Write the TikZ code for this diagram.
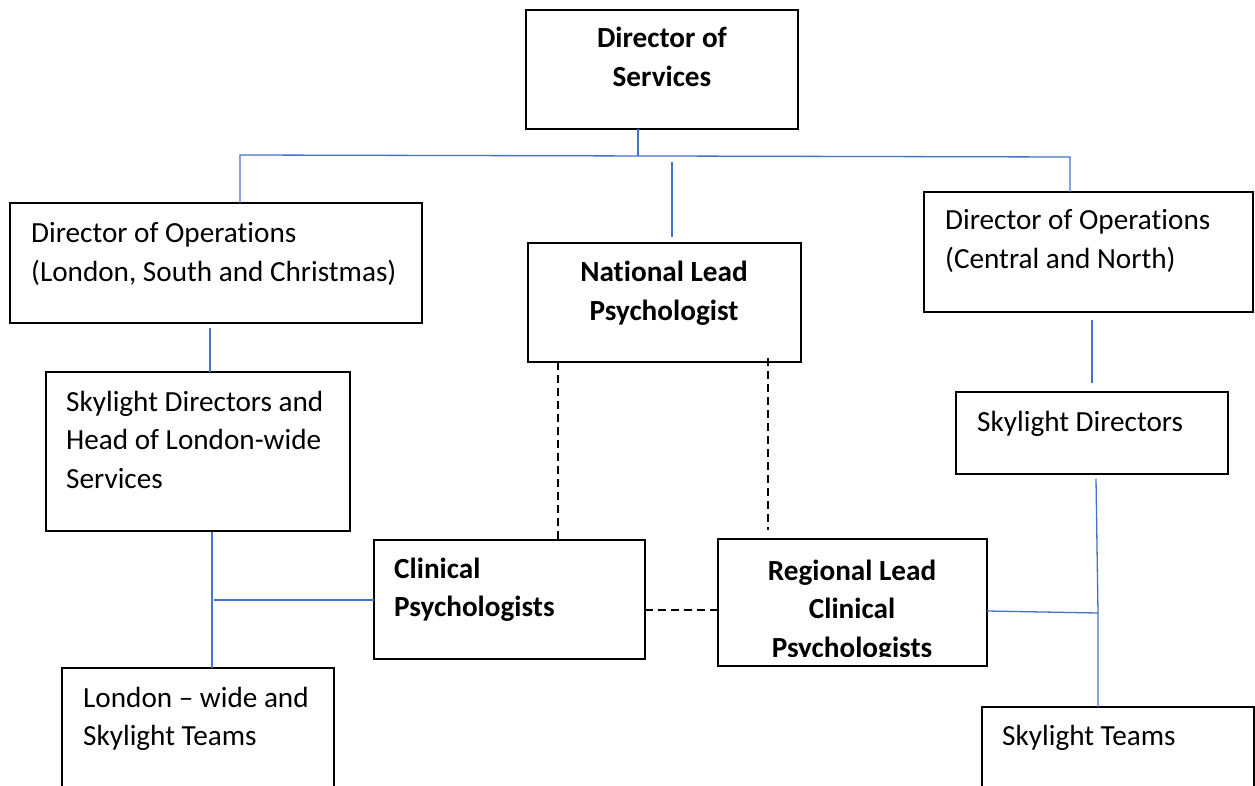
\documentclass[tikz,border=0pt]{standalone}
\usepackage{fontspec}
\setmainfont{Carlito}[RawFeature={-liga;-clig;-calt;-dlig}]
\definecolor{linkblue}{HTML}{4472C4}
\newcommand{\boxlines}[2][l]{\begin{tabular}[t]{@{}#1@{}}#2\end{tabular}}
\begin{document}
\begin{tikzpicture}[x=1pt,y=-1pt,
  orgbox/.style={draw=black, line width=2.2pt, rectangle, inner sep=0pt, outer sep=0pt, anchor=north west},
  txt/.style={anchor=base west, inner sep=0pt, font=\fontsize{29.2}{38.5}\selectfont},
  ctxt/.style={anchor=base, inner sep=0pt, font=\fontsize{29.2}{38.5}\selectfont\bfseries},
  btxt/.style={anchor=base west, inner sep=0pt, font=\fontsize{29.2}{38.5}\selectfont\bfseries},
  link/.style={draw=linkblue, line width=1.3pt},
  dashlink/.style={draw=black, line width=1.8pt, dash pattern=on 8pt off 5pt}]
\useasboundingbox (0,0) rectangle (1255,786);
\fill[white] (0,0) rectangle (1255,786);

% boxes
\node[orgbox, minimum width=272pt, minimum height=119pt] (dos) at (526,10) {};
\node[orgbox, minimum width=412pt, minimum height=120pt] (dol) at (10,203) {};
\node[orgbox, minimum width=273pt, minimum height=119pt] (nlp) at (528,243) {};
\node[orgbox, minimum width=329pt, minimum height=120pt] (doc) at (924,192) {};
\node[orgbox, minimum width=304pt, minimum height=159pt] (sdl) at (46,372) {};
\node[orgbox, minimum width=271pt, minimum height=119pt] (cp) at (374,540) {};
\node[orgbox, minimum width=272pt, minimum height=140pt] (lw) at (62,668) {};
\node[orgbox, minimum width=269pt, minimum height=127pt] (rl) at (718,539) {};
\node[orgbox, minimum width=272pt, minimum height=82pt] (sd) at (956,392) {};
\node[orgbox, minimum width=272pt, minimum height=100pt] (st) at (982,707) {};

% texts
\node[ctxt] (tdos) at (662,48) {\boxlines[c]{Director of\\Services}};
\node[txt] (tdol) at (31,243) {\boxlines{Director of Operat\kern0pt ions\\(London, South and Christmas)}};
\node[ctxt] (tnlp) at (664,282) {\boxlines[c]{National Lead\\Psychologist}};
\node[txt] (tdoc) at (945,230) {\boxlines{Director of Operat\kern0pt ions\\(Central and North)}};
\node[txt] (tsdl) at (66,411) {\boxlines{Skylight Directors and\\Head of London-wide\\Services}};
\node[btxt] (tcp) at (394,578) {\boxlines{Clinical\\Psychologists}};
\node[txt] (tlw) at (83,707) {\boxlines{London -- wide and\\Skylight Teams}};
\begin{scope}
  \clip (718,539) rectangle (987,656);
  \node[ctxt] (trl) at (852,580) {\boxlines[c]{Regional Lead\\Clinical\\Psychologists}};
\end{scope}
\node[txt] (tsd) at (977,431) {Skylight Directors};
\node[txt] (tst) at (1002,745) {Skylight Teams};

% blue connectors
\coordinate (hubL) at (240,155);
\coordinate (hubC) at (638,156);
\coordinate (hubR) at (1070,157);
\draw[link] (hubC |- dos.south) -- (hubC);
\draw[link] (dol.north -| hubL) -- (hubL) -- (hubR) -- (hubR |- doc.north);
\coordinate (nt) at (672,162);
\coordinate (nb) at (672,237);
\draw[link] (nt) -- (nb);
\coordinate (a1) at (210,328);
\draw[link] (a1) -- (a1 |- sdl.north);
\coordinate (a2) at (212,532);
\draw[link] (a2) -- (a2 |- lw.north);
\coordinate (a3) at (214,600);
\draw[link] (a3) -- (a3 -| cp.west);
\coordinate (b1) at (1092,320);
\coordinate (b1e) at (1092,383);
\draw[link] (b1) -- (b1e);
\coordinate (b2) at (1096,479);
\coordinate (b3) at (1098,613);
\coordinate (b4) at (987,611);
\draw[link] (b2) -- (b3) -- (b3 |- st.north);
\draw[link] (b4) -- (b3);

% dashed connectors
\coordinate (d1) at (558,450);
\draw[dashlink] (d1 |- nlp.south) -- (d1 |- cp.north);
\coordinate (d2t) at (768,358);
\coordinate (d2b) at (768,530);
\draw[dashlink] (d2t) -- (d2b);
\coordinate (d3) at (680,610);
\draw[dashlink] (d3 -| cp.east) -- (d3 -| rl.west);
\end{tikzpicture}
\end{document}
